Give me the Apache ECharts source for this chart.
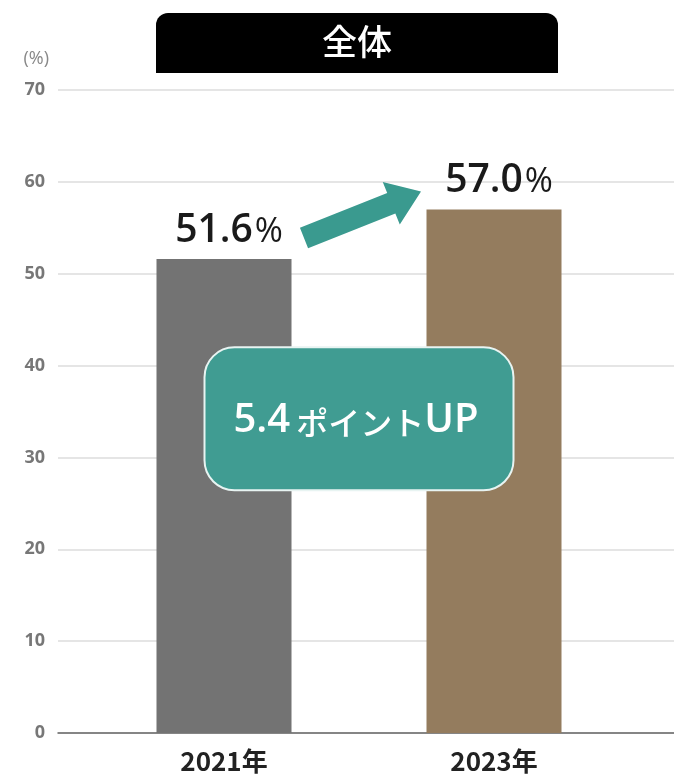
<!DOCTYPE html>
<html><head><meta charset="utf-8">
<script src="https://cdn.jsdelivr.net/npm/echarts@6/dist/echarts.min.js"></script>
<style>html,body{margin:0;padding:0;background:#fff}#c{width:674px;height:779px}</style>
</head><body><div id="c"></div>
<script>
const categories = ['2021年', '2023年'];
const values = [51.6, 57.0];
const barColors = ['#737373', '#947c5e'];
const yTicks = [0, 10, 20, 30, 40, 50, 60, 70];
const titleText = '全体';
const unitText = '(%)';

const FONT = '"Noto Sans CJK JP", "Noto Sans", sans-serif';
const NUMFONT = '"Open Sans", "Noto Sans", sans-serif';
const chart = echarts.init(document.getElementById('c'));
const diff = (values[1] - values[0]).toFixed(1);

const option = {
  animation: false,
  textStyle: { fontFamily: FONT },
  grid: [
    { left: 58, right: 0, top: 90, bottom: 46 },
    { left: 89, right: 45, top: 90, bottom: 46 }
  ],
  xAxis: [
    { gridIndex: 0, type: 'category', data: [''], axisLine: { show: true, lineStyle: { color: '#666', width: 1.5 } },
      axisTick: { show: false }, axisLabel: { show: false } },
    { gridIndex: 1, type: 'category', data: categories, axisLine: { show: false }, axisTick: { show: false },
      axisLabel: { margin: 15, fontSize: 26, fontWeight: 'bold', color: '#222', fontFamily: FONT } }
  ],
  yAxis: [
    { gridIndex: 0, type: 'value', min: yTicks[0], max: yTicks[yTicks.length - 1], interval: 10,
      name: unitText, nameLocation: 'end', nameGap: 22,
      nameTextStyle: { color: '#888', fontSize: 18, align: 'right', padding: [0, 9, 0, 0], fontFamily: NUMFONT },
      axisLine: { show: false }, axisTick: { show: false },
      axisLabel: { margin: 13, fontSize: 18, color: '#777', fontWeight: 'bold', fontFamily: NUMFONT },
      splitLine: { lineStyle: { color: '#dcdcdc', width: 1.5 } } },
    { gridIndex: 1, type: 'value', min: yTicks[0], max: yTicks[yTicks.length - 1], interval: 10, show: false,
      splitLine: { show: false } }
  ],
  series: [{
    type: 'bar', xAxisIndex: 1, yAxisIndex: 1, barWidth: '50%',
    data: values.map((v, i) => ({ value: v, itemStyle: { color: barColors[i] } })),
    label: {
      show: true, position: 'top', distance: 9, offset: [5, 0],
      formatter: p => '{n|' + p.value.toFixed(1) + '}{p|%}',
      rich: {
        n: { fontSize: 39, fontWeight: 600, color: '#1a1a1a', fontFamily: NUMFONT },
        p: { fontSize: 34, fontWeight: 500, color: '#1a1a1a', fontFamily: NUMFONT, padding: [3, 0, 0, 2] }
      }
    }
  }]
};
chart.setOption(option);

function px(ci, v) { return chart.convertToPixel({ xAxisIndex: 1, yAxisIndex: 1 }, [ci, v]); }
const b0 = px(0, values[0]);
const b1 = px(1, values[1]);

// arrow
const tail = [b0[0] + 80, b0[1] - 21];
const tip = [b1[0] - 73, b1[1] - 18];
const dx = tip[0] - tail[0], dy = tip[1] - tail[1];
const L = Math.hypot(dx, dy), ux = dx / L, uy = dy / L, nx = -uy, ny = ux;
const sw = 11, hl = 32, hw = 23;
function P(a, n) { return [tail[0] + ux * a + nx * n, tail[1] + uy * a + ny * n]; }
const arrowPts = [P(0, -sw), P(L - hl, -sw), P(L - hl, -hw), P(L, 0), P(L - hl, hw), P(L - hl, sw), P(0, sw)];

// callout
const midX = (px(0, 0)[0] + px(1, 0)[0]) / 2;
const boxCY = px(0, 34.2)[1];
const bw = 309, bh = 143;

const titleW = 402, titleH = 60;

chart.setOption({
  graphic: [
    { type: 'rect', shape: { x: midX - titleW / 2 - 2, y: 13, width: titleW, height: titleH, r: [12, 12, 0, 0] },
      style: { fill: '#000' }, z: 10 },
    { type: 'text', style: { text: titleText, x: midX - 2, y: 13 + titleH / 2 - 1, align: 'center', verticalAlign: 'middle',
      fill: '#fff', fontSize: 35, fontWeight: 500, fontFamily: FONT }, z: 11 },
    { type: 'polygon', shape: { points: arrowPts }, style: { fill: '#3a9a8f' }, z: 10 },
    { type: 'rect', shape: { x: midX - bw / 2, y: boxCY - bh / 2, width: bw, height: bh, r: 30 },
      style: { fill: '#409c92', stroke: '#e8f4f2', lineWidth: 2 }, z: 10 },
    { type: 'text', style: {
        text: '{a|' + diff + '}{b|ポイント}{a|UP}', x: midX - 3, y: boxCY + 2, align: 'center', verticalAlign: 'middle',
        rich: {
          a: { fontSize: 40, fontWeight: 600, fill: '#fff', fontFamily: NUMFONT },
          b: { fontSize: 32, fontWeight: 500, fill: '#fff', fontFamily: FONT, padding: [4, 0, 0, 6] }
        } }, z: 11 }
  ]
});
</script>
</body></html>
